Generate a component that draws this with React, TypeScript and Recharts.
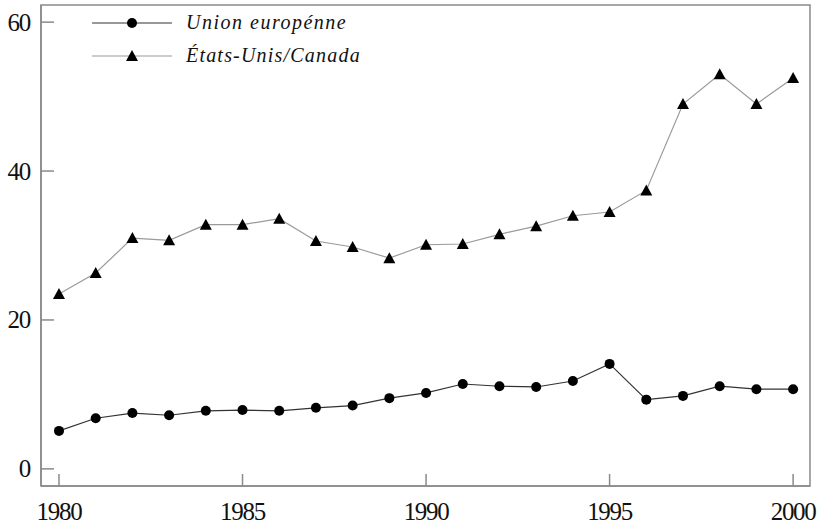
import React from 'react';
import { LineChart, Line, XAxis, YAxis, ReferenceArea } from 'recharts';

const years = [1980, 1981, 1982, 1983, 1984, 1985, 1986, 1987, 1988, 1989, 1990, 1991, 1992, 1993, 1994, 1995, 1996, 1997, 1998, 1999, 2000];
const unionEuropeenne = [5.1, 6.8, 7.5, 7.2, 7.8, 7.9, 7.8, 8.2, 8.5, 9.5, 10.2, 11.4, 11.1, 11.0, 11.8, 14.1, 9.3, 9.8, 11.1, 10.7, 10.7];
const etatsUnisCanada = [23.5, 26.3, 31.0, 30.7, 32.8, 32.8, 33.6, 30.6, 29.8, 28.3, 30.1, 30.2, 31.5, 32.6, 34.0, 34.5, 37.4, 49.0, 53.0, 49.0, 52.5];
const xTicks = [1980, 1985, 1990, 1995, 2000];
const yTicks = [0, 20, 40, 60];

const X_DOMAIN = [1979.51, 2000.46];
const Y_DOMAIN = [-2.3, 62.3];

const data = years.map((year, i) => ({
  year,
  ue: unionEuropeenne[i],
  us: etatsUnisCanada[i],
}));

const FONT = '"Liberation Serif", "Times New Roman", serif';
const AXIS = '#8a8a8a';

const CircleDot = (props: any) => {
  const { cx, cy } = props;
  if (cx == null || cy == null) return null;
  return <circle cx={cx} cy={cy} r={5} fill="#000" />;
};

const TriangleDot = (props: any) => {
  const { cx, cy } = props;
  if (cx == null || cy == null) return null;
  return <polygon points={`${cx},${cy - 6} ${cx + 6},${cy + 5} ${cx - 6},${cy + 5}`} fill="#000" />;
};

const XTick = (props: any) => {
  const { x, y, payload } = props;
  return (
    <g>
      <line x1={x} y1={y} x2={x} y2={y - 12} stroke={AXIS} strokeWidth={1.5} />
      <text x={x} y={y + 34} textAnchor="middle" fontFamily={FONT} fontSize={25} letterSpacing={-1.3} fill="#111">
        {payload.value}
      </text>
    </g>
  );
};

const YTick = (props: any) => {
  const { x, y, payload } = props;
  return (
    <g>
      <line x1={x} y1={y} x2={x + 13} y2={y} stroke={AXIS} strokeWidth={1.5} />
      <text x={x - 11} y={y + 8.5} textAnchor="end" fontFamily={FONT} fontSize={25} letterSpacing={-1.3} fill="#111">
        {payload.value}
      </text>
    </g>
  );
};

const LegendBox = () => (
  <svg width={420} height={75} style={{ position: 'absolute', left: 0, top: 0, pointerEvents: 'none' }}>
    <line x1={92} y1={23} x2={172} y2={23} stroke="#333" strokeWidth={1} />
    <circle cx={132} cy={23} r={5} fill="#000" />
    <text x={186} y={29} fontFamily={FONT} fontStyle="italic" fontSize={20} letterSpacing={1.5} fill="#111">
      Union europénne
    </text>
    <line x1={92} y1={56} x2={172} y2={56} stroke="#999" strokeWidth={1} />
    <polygon points="132,50 138,61 126,61" fill="#000" />
    <text x={186} y={62} fontFamily={FONT} fontStyle="italic" fontSize={20} letterSpacing={1.2} fill="#111">
      États-Unis/Canada
    </text>
  </svg>
);

export default function App() {
  return (
    <div style={{ position: 'absolute', left: 0, top: 0, width: 822, height: 527, background: '#fff' }}>
      <LineChart width={822} height={527} data={data} margin={{ top: 5, right: 12, bottom: 11, left: 6 }}>
        <XAxis
          dataKey="year"
          type="number"
          domain={X_DOMAIN}
          ticks={xTicks}
          allowDataOverflow
          height={30}
          tickSize={0}
          tickMargin={0}
          tickLine={false}
          axisLine={{ stroke: AXIS, strokeWidth: 1.5 }}
          tick={<XTick />}
        />
        <YAxis
          type="number"
          domain={Y_DOMAIN}
          ticks={yTicks}
          allowDataOverflow
          width={35}
          tickSize={0}
          tickMargin={0}
          tickLine={false}
          axisLine={{ stroke: AXIS, strokeWidth: 1.5 }}
          tick={<YTick />}
        />
        <ReferenceArea
          x1={X_DOMAIN[0]}
          x2={X_DOMAIN[1]}
          y1={Y_DOMAIN[0]}
          y2={Y_DOMAIN[1]}
          fill="none"
          stroke={AXIS}
          strokeWidth={1.5}
          ifOverflow="visible"
        />
        <Line dataKey="us" stroke="#9a9a9a" strokeWidth={1.2} dot={<TriangleDot />} isAnimationActive={false} />
        <Line dataKey="ue" stroke="#333" strokeWidth={1.2} dot={<CircleDot />} isAnimationActive={false} />
      </LineChart>
      <LegendBox />
    </div>
  );
}
